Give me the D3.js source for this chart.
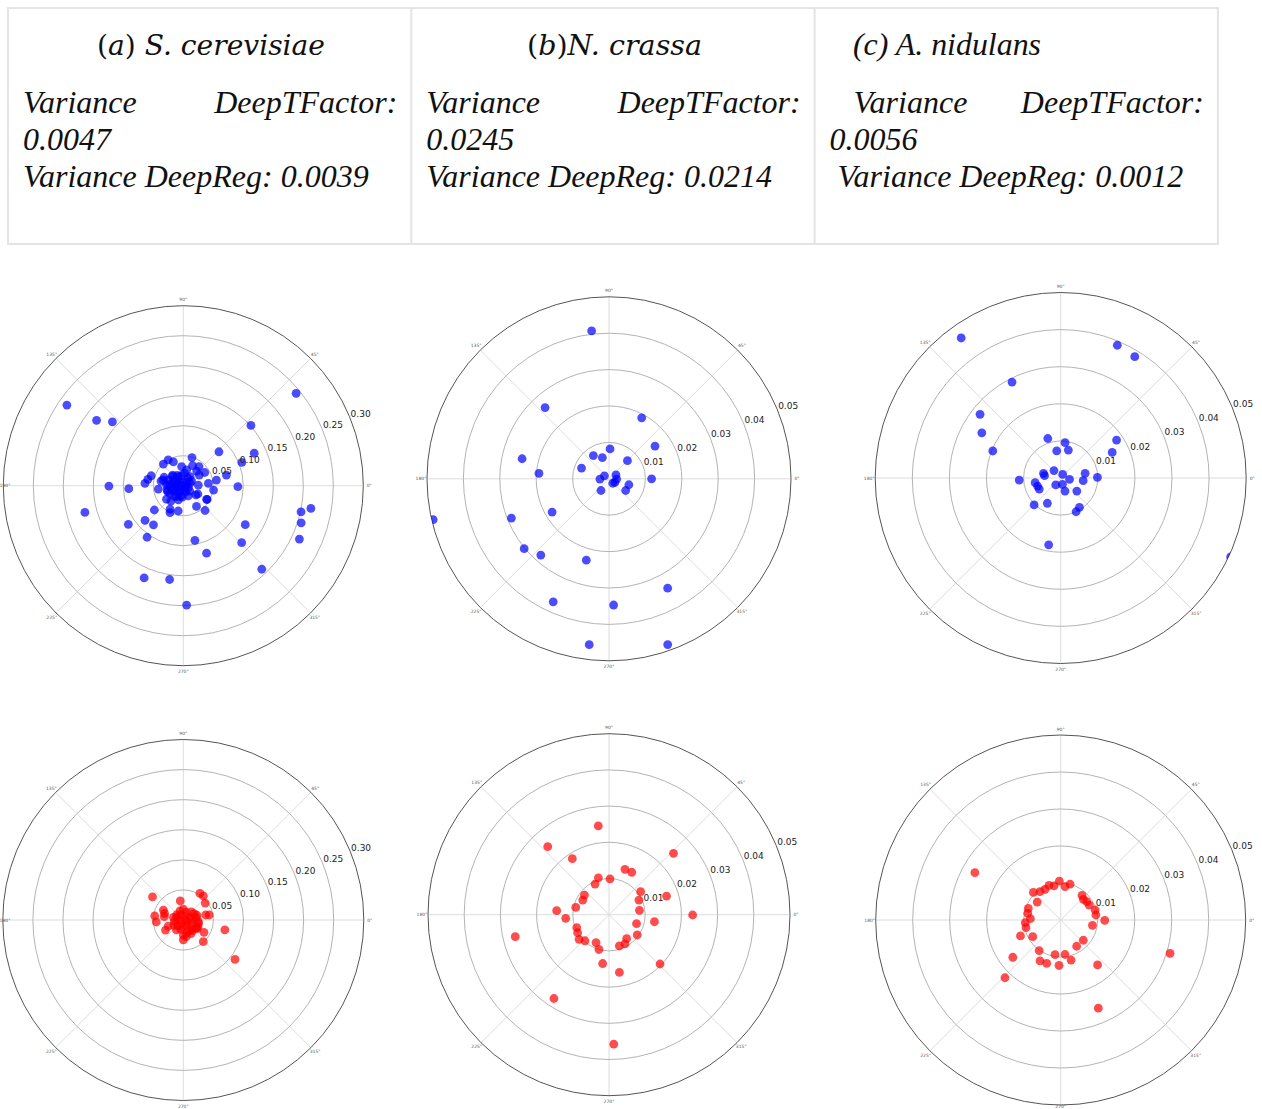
<!DOCTYPE html>
<html>
<head>
<meta charset="utf-8">
<script src="https://cdn.jsdelivr.net/npm/d3@7"></script>
<style>
  body { margin: 0; background: #fff; }
  svg { display: block; }
</style>
</head>
<body>
<svg id="fig" width="1262" height="1109"></svg>
<script>
// ---- header table text ----
const speciesPrefix = ["a", "b", "c"];
const speciesNames = ["S. cerevisiae", "N. crassa", "A. nidulans"];
const varianceDeepTFactor = ["0.0047", "0.0245", "0.0056"];
const varianceDeepReg = ["0.0039", "0.0214", "0.0012"];

// ---- polar scatter data: [theta in degrees, radius] ----
// DeepTFactor (blue row)
const scerDeepTFactor = [
  [145.3,0.236],[143.0,0.181],[138.0,0.159],[39.3,0.243],[41.7,0.151],[43.6,0.082],[24.6,0.130],
  [21.7,0.105],[13.8,0.074],[9.6,0.056],[359.0,0.091],[180.3,0.124],[183.1,0.091],[195.2,0.170],
  [215.1,0.112],[222.1,0.086],[232.7,0.082],[234.9,0.105],[247.0,0.167],[261.7,0.158],[271.6,0.199],
  [282.0,0.093],[289.0,0.119],[315.7,0.136],[327.8,0.122],[313.2,0.191],[347.5,0.201],[349.9,0.216],
  [342.5,0.206],[335.3,0.213],[311.3,0.055],[302.4,0.041],[330.0,0.046],[351.8,0.051],[5.3,0.042],
  [2.5,0.025],[220.0,0.063],[258.7,0.043],[243.7,0.050],[218.7,0.036],[187.6,0.042],[168.2,0.038],
  [176.5,0.064],[170.0,0.060],[162.8,0.056],[156.3,0.035],[132.7,0.049],[120.3,0.050],[112.6,0.043],
  [95.0,0.032],[72.8,0.049],[65.3,0.037],[50.5,0.041],[47.7,0.033],[31.6,0.042],[329.6,0.045],
  [330.4,0.028],[33.7,0.032],[53.5,0.019],[323.6,0.026],[295.8,0.019],[238.8,0.021],[200.6,0.028],
  [177.7,0.028],[150.5,0.019],[119.0,0.017],[78.0,0.027],[135.0,0.025],[164.0,0.035],[240.6,0.045],
  [231.2,0.033],[250.8,0.025],
  [0,0.004],[45,0.008],[90,0.006],[135,0.010],[180,0.012],[225,0.009],[270,0.007],[315,0.005],
  [150,0.015],[170,0.018],[185,0.022],[175,0.025],[200,0.020],[215,0.016],[240,0.013],[255,0.018],
  [290,0.011],[320,0.014],[20,0.012],[60,0.015],[100,0.017],[120,0.020],[140,0.024],[160,0.027],
  [195,0.028],[230,0.023],[265,0.019],[340,0.009],[30,0.016],[85,0.021],[180,0.003],[195,0.013],
  [210,0.026],[160,0.010]
];
const ncraDeepTFactor = [
  [96.7,0.0409],[131.9,0.0263],[61.8,0.0190],[35.4,0.0155],[88.0,0.0082],[123.9,0.0077],[107.4,0.0061],
  [44.5,0.0071],[158.7,0.0081],[167.0,0.0245],[175.6,0.0193],[0.0,0.0117],[147.0,0.0015],[182.0,0.0025],
  [29.7,0.0022],[357.5,0.0021],[328.6,0.0019],[310.0,0.0016],[343.3,0.0057],[325.0,0.0056],[235.6,0.0039],
  [210.3,0.0181],[201.9,0.0289],[193.1,0.0496],[219.5,0.0302],[228.2,0.0281],[254.4,0.0232],[245.6,0.0371],
  [272.1,0.0347],[298.2,0.0341],[263.2,0.0459],[289.5,0.0483]
];
const anidDeepTFactor = [
  [125.4,0.0463],[66.9,0.0389],[58.6,0.0383],[116.9,0.0290],[141.7,0.0277],[150.2,0.0245],[158.3,0.0197],
  [34.2,0.0182],[26.4,0.0155],[108.1,0.0112],[83.0,0.0096],[98.4,0.0074],[74.7,0.0078],[132.3,0.0027],
  [165.0,0.0048],[171.9,0.0044],[61.0,0.0011],[10.9,0.0067],[1.0,0.0099],[353.3,0.0061],[351.0,0.0024],
  [284.7,0.0018],[234.5,0.0023],[288.4,0.0037],[320.9,0.0056],[182.8,0.0112],[190.3,0.0070],[199.2,0.0066],
  [207.3,0.0065],[225.4,0.0102],[242.2,0.0077],[302.5,0.0094],[294.5,0.0100],[259.8,0.0183],[335.1,0.0505]
];
// DeepReg (red row)
const scerDeepReg = [
  [143.1,0.064],[99.0,0.032],[58.0,0.052],[50.2,0.052],[37.7,0.046],[12.6,0.038],[10.9,0.044],
  [153.4,0.037],[160.7,0.033],[172.0,0.048],[184.2,0.045],[170.0,0.032],[209.5,0.034],[346.5,0.071],
  [329.2,0.040],[312.7,0.049],[322.7,0.108],[270.0,0.033],[328.2,0.027],[201.8,0.027],[326.7,0.025],
  [347.5,0.026],
  [0,0.004],[60,0.007],[120,0.009],[180,0.006],[240,0.008],[300,0.010],[20,0.012],[340,0.015],
  [320,0.018],[300,0.020],[285,0.022],[270,0.025],[280,0.028],[255,0.016],[225,0.013],[210,0.018],
  [190,0.015],[165,0.017],[140,0.014],[110,0.016],[90,0.018],[70,0.014],[45,0.019],[10,0.022],
  [355,0.025],[335,0.027],[310,0.023],[160,0.012],[270,0.011],[235,0.020],[300,0.026],[30,0.021],
  [330,0.006],[20,0.024],[5,0.016]
];
const ncraDeepReg = [
  [96.9,0.0247],[132.0,0.0253],[123.2,0.0185],[43.6,0.0246],[70.6,0.0133],[61.8,0.0133],[88.4,0.0099],
  [106.1,0.0106],[114.5,0.0093],[141.4,0.0087],[150.9,0.0083],[167.6,0.0094],[175.6,0.0145],[184.8,0.0120],
  [193.2,0.0266],[201.9,0.0096],[209.9,0.0100],[219.4,0.0107],[227.3,0.0098],[245.1,0.0085],[253.9,0.0100],
  [262.6,0.0136],[280.2,0.0162],[288.3,0.0091],[298.6,0.0092],[306.4,0.0082],[324.3,0.0096],[316.0,0.0196],
  [351.2,0.0127],[342.0,0.0080],[8.1,0.0085],[26.0,0.0092],[36.0,0.0108],[17.9,0.0167],[359.8,0.0231],
  [236.7,0.0277],[272.1,0.0358]
];
const anidDeepReg = [
  [151.1,0.0265],[92.0,0.0105],[75.3,0.0100],[82.6,0.0091],[101.1,0.0094],[108.6,0.0099],[117.1,0.0093],
  [126.1,0.0095],[134.7,0.0105],[142.7,0.0080],[160.2,0.0093],[168.6,0.0091],[177.5,0.0082],[184.3,0.0096],
  [192.5,0.0096],[201.6,0.0117],[210.8,0.0088],[234.8,0.0101],[217.9,0.0164],[226.0,0.0217],[243.2,0.0124],
  [252.1,0.0123],[260.7,0.0095],[277.1,0.0094],[267.9,0.0123],[284.5,0.0112],[301.3,0.0083],[318.1,0.0082],
  [309.4,0.0157],[293.1,0.0259],[343.0,0.0309],[350.4,0.0087],[359.6,0.0119],[8.1,0.0096],[16.2,0.0097],
  [27.6,0.0087],[35.2,0.0086],[42.4,0.0083],[49.1,0.0088]
];

// radial tick values and angular tick labels
const ticksWide = [0.05, 0.10, 0.15, 0.20, 0.25, 0.30];
const ticksNarrow = [0.01, 0.02, 0.03, 0.04, 0.05];
const angleTicks = [0, 45, 90, 135, 180, 225, 270, 315];

const svg = d3.select("#fig");

// ================= header table =================
const tableX = 8, tableY = 8, colW = 403.3, tableH = 236;
const head = svg.append("g");
head.append("rect")
  .attr("x", tableX).attr("y", tableY)
  .attr("width", colW * 3).attr("height", tableH)
  .attr("fill", "none").attr("stroke", "#e4e4e4").attr("stroke-width", 2);
[1, 2].forEach(i => head.append("line")
  .attr("x1", tableX + colW * i).attr("x2", tableX + colW * i)
  .attr("y1", tableY).attr("y2", tableY + tableH)
  .attr("stroke", "#e4e4e4").attr("stroke-width", 2));

const serif = "'Liberation Serif', 'Times New Roman', serif";
const titleLayout = [
  { x: 97, w: 228, math: true },
  { x: 527, w: 175, math: true },
  { x: 853, w: 188, math: false }
];
const rowIndent = [
  { v: 15, reg: 15 },
  { v: 15, reg: 15 },
  { v: 39, reg: 23 }
];

speciesNames.forEach((name, i) => {
  const x0 = tableX + colW * i;
  const tl = titleLayout[i];
  const t = head.append("text")
    .attr("x", tl.x).attr("y", 55)
    .attr("font-family", tl.math ? "'DejaVu Serif', serif" : serif)
    .attr("font-size", tl.math ? 27 : 32)
    .attr("fill", "#111")
    .attr("textLength", tl.w).attr("lengthAdjust", "spacingAndGlyphs");
  if (tl.math) {
    t.append("tspan").attr("font-style", "normal").text("(");
    t.append("tspan").attr("font-style", "italic").text(speciesPrefix[i]);
    t.append("tspan").attr("font-style", "normal").text(")");
    t.append("tspan").attr("font-style", "italic").text((i === 0 ? " " : "") + name);
  } else {
    t.attr("font-style", "italic").text("(" + speciesPrefix[i] + ") " + name);
  }

  const txt = (x, y, s, anchor) => head.append("text")
    .attr("x", x).attr("y", y)
    .attr("text-anchor", anchor || "start")
    .attr("font-family", serif).attr("font-style", "italic")
    .attr("font-size", 32).attr("fill", "#111").text(s);

  txt(x0 + rowIndent[i].v, 113, "Variance");
  txt(x0 + colW - 14, 113, "DeepTFactor:", "end");
  txt(x0 + 15, 150, varianceDeepTFactor[i]);
  txt(x0 + rowIndent[i].reg, 187, "Variance DeepReg: " + varianceDeepReg[i]);
});

// ================= polar panels =================
const panels = [
  { data: scerDeepTFactor, ticks: ticksWide,   rmax: 0.30, cx: 183.3,  cy: 485.7, R: 180,   color: "blue" },
  { data: ncraDeepTFactor, ticks: ticksNarrow, rmax: 0.05, cx: 609.0,  cy: 478.8, R: 182,   color: "blue" },
  { data: anidDeepTFactor, ticks: ticksNarrow, rmax: 0.05, cx: 1060.7, cy: 478.0, R: 185.5, color: "blue" },
  { data: scerDeepReg,     ticks: ticksWide,   rmax: 0.30, cx: 183.3,  cy: 920.0, R: 180.5, color: "red" },
  { data: ncraDeepReg,     ticks: ticksNarrow, rmax: 0.05, cx: 609.0,  cy: 914.7, R: 181,   color: "red" },
  { data: anidDeepReg,     ticks: ticksNarrow, rmax: 0.05, cx: 1060.7, cy: 920.0, R: 185,   color: "red" }
];

const rad = d => d * Math.PI / 180;
const tickFmt = d3.format(".2f");
const defs = svg.append("defs");

panels.forEach((p, k) => {
  const rScale = d3.scaleLinear().domain([0, p.rmax]).range([0, p.R]);
  const g = svg.append("g").attr("transform", `translate(${p.cx},${p.cy})`);

  // clip region in the panel's local (centred) coordinates
  const clipId = "clip" + k;
  defs.append("clipPath").attr("id", clipId)
    .append("circle").attr("cx", 0).attr("cy", 0).attr("r", p.R);

  // angular spokes
  g.selectAll("line.spoke").data(angleTicks).join("line")
    .attr("class", "spoke")
    .attr("x1", 0).attr("y1", 0)
    .attr("x2", a => p.R * Math.cos(rad(a)))
    .attr("y2", a => -p.R * Math.sin(rad(a)))
    .attr("stroke", "#dcdcdc").attr("stroke-width", 1);

  // radial rings (the last tick is the outer boundary)
  g.selectAll("circle.ring").data(p.ticks.slice(0, -1)).join("circle")
    .attr("class", "ring")
    .attr("r", d => rScale(d))
    .attr("fill", "none").attr("stroke", "#b4b4b4").attr("stroke-width", 1);

  g.append("circle").attr("r", p.R)
    .attr("fill", "none").attr("stroke", "#555").attr("stroke-width", 1);

  // scatter points
  g.append("g").attr("clip-path", `url(#${clipId})`)
    .selectAll("circle").data(p.data).join("circle")
    .attr("cx", d => rScale(d[1]) * Math.cos(rad(d[0])))
    .attr("cy", d => -rScale(d[1]) * Math.sin(rad(d[0])))
    .attr("r", 4.4)
    .attr("fill", p.color).attr("fill-opacity", 0.7);

  // radial tick labels along 22.5 degrees
  g.selectAll("text.rlabel").data(p.ticks).join("text")
    .attr("class", "rlabel")
    .attr("x", d => rScale(d) * Math.cos(rad(22.5)) + 1)
    .attr("y", d => -rScale(d) * Math.sin(rad(22.5)))
    .attr("font-family", "'DejaVu Sans', sans-serif")
    .attr("font-size", 9).attr("fill", "#222")
    .text(d => tickFmt(d));

  // angular tick labels, kept inside the page
  g.selectAll("text.alabel").data(angleTicks).join("text")
    .attr("class", "alabel")
    .attr("x", a => {
      const x = (p.R + 6) * Math.cos(rad(a));
      return Math.max(x, 5 - p.cx);
    })
    .attr("y", a => {
      const y = -(p.R + 6) * Math.sin(rad(a));
      return Math.min(y, 1106 - p.cy);
    })
    .attr("text-anchor", "middle").attr("dominant-baseline", "central")
    .attr("font-family", "'DejaVu Sans', sans-serif")
    .attr("font-size", 4.5).attr("fill", "#555")
    .text(a => a + "°");
});
</script>
</body>
</html>
